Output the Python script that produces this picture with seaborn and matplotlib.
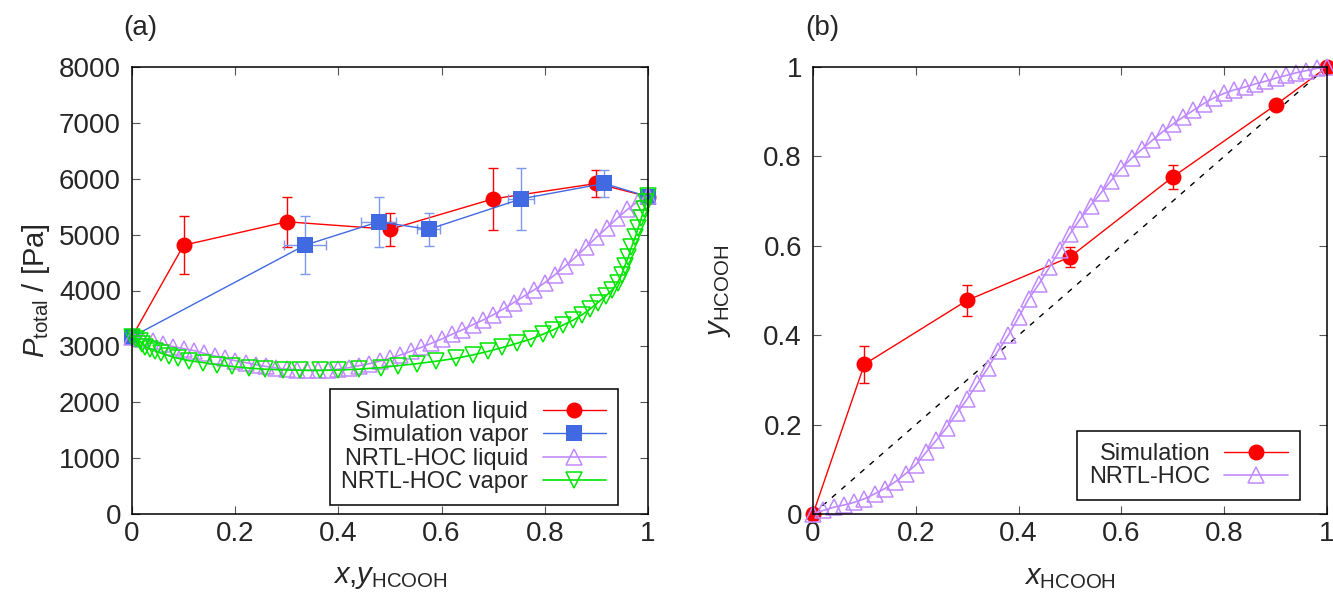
import matplotlib
matplotlib.use("Agg")
import matplotlib.pyplot as plt
import seaborn as sns
import pandas as pd
from matplotlib.ticker import FuncFormatter, MultipleLocator
from matplotlib.lines import Line2D

# simulation points (shared by both panels)
sim_x = [0.0, 0.1, 0.3, 0.5, 0.7, 0.9, 1.0]
sim_y = [0.0, 0.335, 0.478, 0.575, 0.754, 0.915, 1.0]
sim_y_err = [0.0, 0.041, 0.034, 0.022, 0.026, 0.010, 0.0]
sim_p = [3170, 4810, 5230, 5095, 5640, 5915, 5680]
sim_p_err = [0, 517, 450, 300, 560, 245, 0]

# NRTL-HOC model curve
nrtl_x = [0.00, 0.02, 0.04, 0.06, 0.08, 0.10, 0.12, 0.14, 0.16, 0.18,
          0.20, 0.22, 0.24, 0.26, 0.28, 0.30, 0.32, 0.34, 0.36, 0.38,
          0.40, 0.42, 0.44, 0.46, 0.48, 0.50, 0.52, 0.54, 0.56, 0.58,
          0.60, 0.62, 0.64, 0.66, 0.68, 0.70, 0.72, 0.74, 0.76, 0.78,
          0.80, 0.82, 0.84, 0.86, 0.88, 0.90, 0.92, 0.94, 0.96, 0.98, 1.00]
nrtl_y = [0.000, 0.008, 0.015, 0.020, 0.026, 0.034, 0.045, 0.057, 0.072, 0.090,
          0.110, 0.138, 0.165, 0.193, 0.226, 0.257, 0.292, 0.326, 0.365, 0.400,
          0.440, 0.482, 0.515, 0.552, 0.590, 0.627, 0.660, 0.690, 0.718, 0.746,
          0.773, 0.796, 0.816, 0.836, 0.855, 0.872, 0.888, 0.903, 0.918, 0.931,
          0.941, 0.949, 0.955, 0.962, 0.968, 0.975, 0.981, 0.987, 0.992, 0.997, 1.000]
nrtl_p = [3170, 3140, 3095, 3040, 2995, 2960, 2925, 2875, 2830, 2785,
          2745, 2710, 2672, 2640, 2612, 2592, 2580, 2572, 2570, 2576,
          2592, 2620, 2655, 2690, 2735, 2785, 2845, 2910, 2980, 3055,
          3130, 3215, 3295, 3385, 3470, 3565, 3670, 3785, 3900, 4015,
          4140, 4285, 4440, 4600, 4775, 4950, 5120, 5290, 5450, 5590, 5690]

sim = pd.DataFrame({"x": sim_x, "y": sim_y, "p": sim_p})
nrtl = pd.DataFrame({"x": nrtl_x, "y": nrtl_y, "p": nrtl_p})

RED = "#ff0000"
BLUE = "#4169e1"
PURPLE = "#c08aff"
GREEN = "#00e600"

sns.set_style("ticks")
plt.rcParams["font.family"] = ["Liberation Sans", "DejaVu Sans"]
plt.rcParams["mathtext.fontset"] = "custom"
plt.rcParams["mathtext.rm"] = "Liberation Sans"
plt.rcParams["mathtext.it"] = "Liberation Sans:italic"
plt.rcParams["mathtext.bf"] = "Liberation Sans:bold"

fig = plt.figure(figsize=(13.33, 5.92), dpi=100)
ax1 = fig.add_axes([132 / 1333, 78 / 592, 516 / 1333, 447 / 592])
ax2 = fig.add_axes([813 / 1333, 78 / 592, 514 / 1333, 447 / 592])

fmt = FuncFormatter(lambda v, p: "%g" % round(v, 6))

circ = dict(lw=1, marker="o", markersize=11.5, markeredgewidth=0)
sq = dict(lw=1, marker="s", markersize=11, markeredgewidth=0)
up = dict(lw=1.2, marker="^", markersize=11, mfc="none", markeredgewidth=1.1)
down = dict(lw=1.2, marker="v", markersize=11, mfc="none", markeredgewidth=1.1)


def style_axes(ax):
    ax.tick_params(direction="in", top=True, right=True, length=6, width=0.8,
                   labelsize=20, pad=5, color="#555555")
    ax.tick_params(axis="y", pad=8)
    for s in ax.spines.values():
        s.set_linewidth(1.1)
        s.set_color("black")
        s.set_visible(True)
        s.set_zorder(10)
    ax.xaxis.set_major_locator(MultipleLocator(0.2))
    ax.xaxis.set_major_formatter(fmt)
    ax.yaxis.set_major_formatter(fmt)
    ax.set_xlim(0, 1)


# ---- panel (a) ----
ax1.errorbar(sim_x, sim_p, yerr=sim_p_err, fmt="none", ecolor=RED,
             elinewidth=1, capsize=3.5, zorder=2)
sns.lineplot(data=sim, x="x", y="p", ax=ax1, sort=False, estimator=None,
             color=RED, zorder=3, clip_on=False, **circ)
ax1.errorbar(sim_y, sim_p, xerr=sim_y_err, yerr=sim_p_err, fmt="none",
             ecolor="#7d96ee", elinewidth=1, capsize=3.5, zorder=4)
sns.lineplot(data=sim, x="y", y="p", ax=ax1, sort=False, estimator=None,
             color=BLUE, zorder=5, clip_on=False, **sq)
sns.lineplot(data=nrtl, x="x", y="p", ax=ax1, sort=False, estimator=None,
             color=PURPLE, mec=PURPLE, zorder=6, clip_on=False, **up)
sns.lineplot(data=nrtl, x="y", y="p", ax=ax1, sort=False, estimator=None,
             color=GREEN, mec=GREEN, zorder=7, clip_on=False, **down)

style_axes(ax1)
ax1.set_ylim(0, 8000)
ax1.yaxis.set_major_locator(MultipleLocator(1000))
ax1.set_xlabel(r"$x$,$y_\mathrm{HCOOH}$", fontsize=21)
ax1.set_ylabel(r"$P_\mathrm{total}$ / [Pa]", fontsize=21)
ax1.xaxis.set_label_coords(0.5, -0.11)
ax1.yaxis.set_label_coords(-0.155, 0.5)

h_a = [
    Line2D([], [], color=RED, **circ),
    Line2D([], [], color=BLUE, **sq),
    Line2D([], [], color=PURPLE, mec=PURPLE, **up),
    Line2D([], [], color=GREEN, mec=GREEN, **down),
]
leg_kw = dict(loc="lower right", borderaxespad=0, markerfirst=False, fontsize=17,
              handlelength=2.7, handletextpad=0.6, labelspacing=0.06, borderpad=0.5,
              fancybox=False, framealpha=1, edgecolor="black")
leg1 = ax1.legend(h_a, ["Simulation liquid", "Simulation vapor",
                        "NRTL-HOC liquid", "NRTL-HOC vapor"],
                  bbox_to_anchor=(0.942, 0.02), **leg_kw)
leg1.get_frame().set_linewidth(1.1)
leg1.set_zorder(20)

# ---- panel (b) ----
ax2.plot([0, 1], [0, 1], color="black", lw=1, ls=(0, (4, 5)), zorder=1)
ax2.errorbar(sim_x, sim_y, yerr=sim_y_err, fmt="none", ecolor=RED,
             elinewidth=1, capsize=3.5, zorder=2)
sns.lineplot(data=sim, x="x", y="y", ax=ax2, sort=False, estimator=None,
             color=RED, zorder=3, clip_on=False, **circ)
sns.lineplot(data=nrtl, x="x", y="y", ax=ax2, sort=False, estimator=None,
             color=PURPLE, mec=PURPLE, zorder=4, clip_on=False, **up)

style_axes(ax2)
ax2.set_ylim(0, 1)
ax2.yaxis.set_major_locator(MultipleLocator(0.2))
ax2.set_xlabel(r"$x_\mathrm{HCOOH}$", fontsize=21)
ax2.set_ylabel(r"$y_\mathrm{HCOOH}$", fontsize=21)
ax2.xaxis.set_label_coords(0.5, -0.11)
ax2.yaxis.set_label_coords(-0.156, 0.5)

leg2 = ax2.legend(h_a[0:1] + h_a[2:3], ["Simulation", "NRTL-HOC"],
                  bbox_to_anchor=(0.947, 0.031), **leg_kw)
leg2.get_frame().set_linewidth(1.1)
leg2.set_zorder(20)

fig.text(140 / 1333, 1 - 28 / 592, "(a)", fontsize=20, ha="center", va="center")
fig.text(822 / 1333, 1 - 28 / 592, "(b)", fontsize=20, ha="center", va="center")

fig.savefig("out.png", dpi=100)
